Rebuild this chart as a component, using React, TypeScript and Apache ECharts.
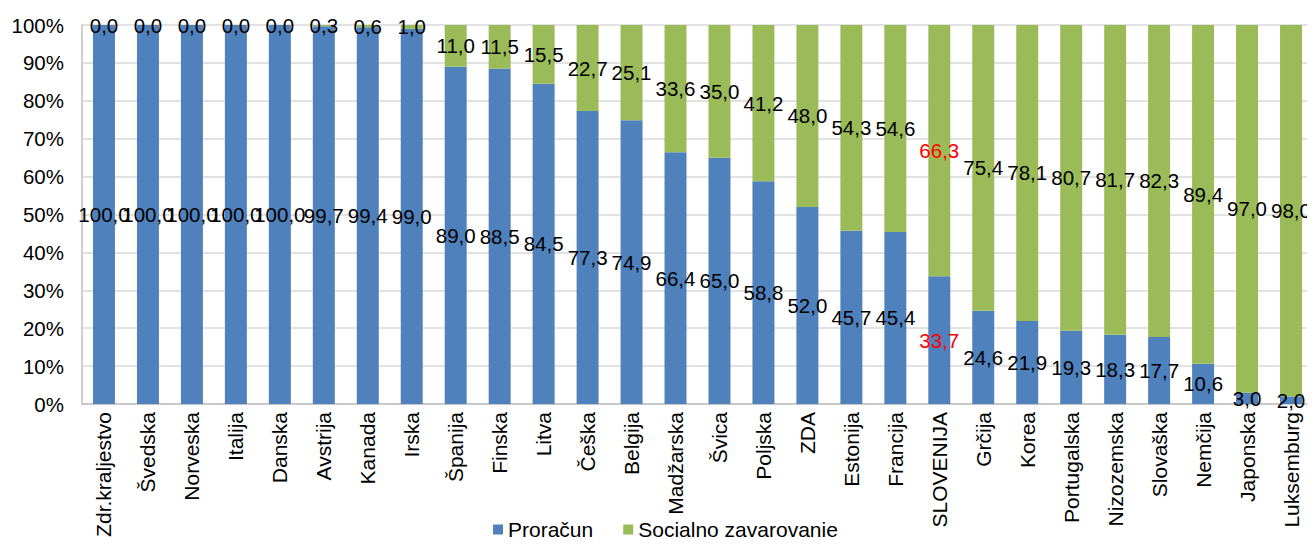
import React, { useEffect, useRef } from "react";
import * as echarts from "echarts";

const categories = [
  "Zdr.kraljestvo", "Švedska", "Norveska", "Italija", "Danska", "Avstrija", "Kanada", "Irska",
  "Španija", "Finska", "Litva", "Češka", "Belgija", "Madžarska", "Švica", "Poljska", "ZDA",
  "Estonija", "Francija", "SLOVENIJA", "Grčija", "Korea", "Portugalska", "Nizozemska",
  "Slovaška", "Nemčija", "Japonska", "Luksemburg",
];
const proracun = [
  100.0, 100.0, 100.0, 100.0, 100.0, 99.7, 99.4, 99.0, 89.0, 88.5, 84.5, 77.3, 74.9, 66.4,
  65.0, 58.8, 52.0, 45.7, 45.4, 33.7, 24.6, 21.9, 19.3, 18.3, 17.7, 10.6, 3.0, 2.0,
];
const socialno = [
  0.0, 0.0, 0.0, 0.0, 0.0, 0.3, 0.6, 1.0, 11.0, 11.5, 15.5, 22.7, 25.1, 33.6, 35.0, 41.2,
  48.0, 54.3, 54.6, 66.3, 75.4, 78.1, 80.7, 81.7, 82.3, 89.4, 97.0, 98.0,
];
const seriesNames = ["Proračun", "Socialno zavarovanje"];
const highlight = "SLOVENIJA";

const FONT = "'Liberation Sans', Arial, sans-serif";

function makeData(vals: number[]) {
  return vals.map((v, i) => ({
    value: v,
    label: categories[i] === highlight ? { color: "#FF0000" } : undefined,
  }));
}

export default function App() {
  const ref = useRef<HTMLDivElement>(null);
  useEffect(() => {
    if (!ref.current) return;
    const chart = echarts.init(ref.current, undefined, { renderer: "svg" });
    const label = {
      show: true,
      position: "inside",
      color: "#000",
      fontSize: 20.5,
      fontFamily: FONT,
      formatter: (p: any) => Number(p.value).toFixed(1).replace(".", ","),
    };
    chart.setOption({
      animation: false,
      textStyle: { fontFamily: FONT },
      grid: { left: 82, right: 2, top: 25, bottom: 141 },
      legend: {
        bottom: 0,
        left: 488,
        icon: "rect",
        itemWidth: 10,
        itemHeight: 10,
        itemGap: 30,
        textStyle: { fontSize: 21, color: "#000", fontFamily: FONT },
        data: seriesNames,
      },
      xAxis: {
        type: "category",
        data: categories,
        axisLine: { lineStyle: { color: "#bfbfbf", width: 1.5 } },
        axisTick: { show: false },
        axisLabel: {
          rotate: 90,
          interval: 0,
          fontSize: 21,
          color: "#000",
          fontFamily: FONT,
          margin: 8,
        },
      },
      yAxis: {
        type: "value",
        min: 0,
        max: 100,
        interval: 10,
        axisLine: { show: true, lineStyle: { color: "#bfbfbf", width: 1.5 } },
        axisTick: { show: false },
        splitLine: { lineStyle: { color: "#d9d9d9", width: 1.5 } },
        axisLabel: {
          formatter: "{value}%",
          fontSize: 20.5,
          color: "#000",
          fontFamily: FONT,
          margin: 18,
        },
      },
      series: [
        {
          name: seriesNames[0],
          type: "bar",
          stack: "total",
          barWidth: "50%",
          itemStyle: { color: "#4F81BD" },
          label,
          data: makeData(proracun),
        },
        {
          name: seriesNames[1],
          type: "bar",
          stack: "total",
          barWidth: "50%",
          itemStyle: { color: "#9BBB59" },
          label,
          data: makeData(socialno),
        },
      ],
    });
    return () => chart.dispose();
  }, []);
  return <div ref={ref} style={{ width: 1315, height: 545, margin: -8 }} />;
}
